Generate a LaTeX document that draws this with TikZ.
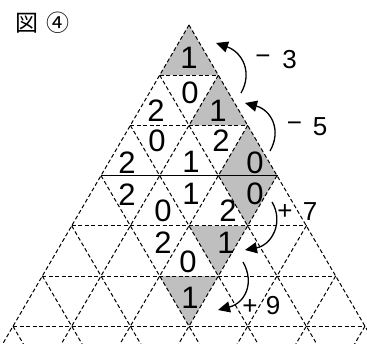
\documentclass[tikz,border=0pt]{standalone}
\usepackage{fontspec}
\setmainfont{Noto Sans CJK JP}
\newfontfamily\digitsans{Liberation Sans}
\usetikzlibrary{arrows.meta}
\begin{document}
\begin{tikzpicture}[x=1pt,y=-1pt,
  grid/.style={dash pattern=on 4pt off 2.5pt, line width=1pt},
  boldline/.style={line width=1.6pt},
  cell/.style={fill=black!25},
  num/.style={font=\digitsans\fontsize{31}{31}\selectfont, inner sep=0pt},
  lab/.style={font=\digitsans\fontsize{26}{26}\selectfont, inner sep=0pt},
  ttl/.style={font=\fontsize{23}{23}\selectfont, inner sep=0pt},
  arr/.style={line width=1.3pt, -{Triangle[length=12pt,width=11pt]}}]
\useasboundingbox (0,0) rectangle (367,343);
\fill[white] (0,0) rectangle (367,343);
% shaded cells
\fill[cell] (189,25) -- (159.67,75.2) -- (218.33,75.2) -- cycle;
\fill[cell] (218.33,75.2) -- (189,125.4) -- (247.67,125.4) -- cycle;
\fill[cell] (247.67,125.4) -- (218.33,175.6) -- (277,175.6) -- cycle;
\fill[cell] (218.33,175.6) -- (277,175.6) -- (247.67,225.8) -- cycle;
\fill[cell] (189,225.8) -- (247.67,225.8) -- (218.33,276) -- cycle;
\fill[cell] (159.67,276) -- (218.33,276) -- (189,326.2) -- cycle;
% grid
\begin{scope}
\clip (0,0) rectangle (367,343);
\foreach \k in {0,...,6}{
  \pgfmathsetmacro\yy{25+50.2*\k}
  \pgfmathsetmacro\xl{189-29.33*\k}
  \pgfmathsetmacro\xr{189+29.33*\k}
  \pgfmathsetmacro\dx{29.33*(360-\yy)/50.2}
  \draw[grid] (\xr,\yy) -- (\xr-\dx,360);
  \draw[grid] (\xl,\yy) -- (\xl+\dx,360);
  \ifnum\k>0 \draw[grid] (\xl,\yy) -- (\xr,\yy); \fi
}
\end{scope}
\draw[boldline] (101,175.6) -- (277,175.6);
% numbers
\node[num] (n1) at (189,58) {1};
\node[num] (n2) at (190,93) {0};
\node[num] (n3) at (156,111) {2};
\node[num] (n4) at (218,111) {1};
\node[num] (n5) at (157,141) {0};
\node[num] (n6) at (221,141) {2};
\node[num] (n7) at (127,163) {2};
\node[num] (n8) at (191,162) {1};
\node[num] (n9) at (255,163) {0};
\node[num] (n10) at (127,195) {2};
\node[num] (n11) at (163,211) {0};
\node[num] (n12) at (191,194) {1};
\node[num] (n13) at (228,211) {2};
\node[num] (n14) at (255,194) {0};
\node[num] (n15) at (163,243) {2};
\node[num] (n16) at (188,262) {0};
\node[num] (n17) at (226,243) {1};
\node[num] (n18) at (190,298) {1};
% arrows
\coordinate (a1s) at (241,93);  \coordinate (a1e) at (216,43);
\coordinate (a2s) at (270,151); \coordinate (a2e) at (245,103);
\coordinate (a3s) at (272,202); \coordinate (a3e) at (245,250);
\coordinate (a4s) at (243,262); \coordinate (a4e) at (218,310);
\draw[arr] (a1s) .. controls (253,72) and (242,52) .. (a1e);
\draw[arr] (a2s) .. controls (282,130) and (271,110) .. (a2e);
\draw[arr] (a3s) .. controls (284,222) and (272,245) .. (a3e);
\draw[arr] (a4s) .. controls (255,283) and (245,303) .. (a4e);
% labels
\node[lab] (m3) at (263,60) {−};
\node[lab] (d3) at (289.5,60) {3};
\node[lab] (m5) at (294.5,127) {−};
\node[lab] (d5) at (320,127) {5};
\node[lab] (p7) at (285,212) {+};
\node[lab] (d7) at (310,212) {7};
\node[lab] (p9) at (250,307) {+};
\node[lab] (d9) at (273,306) {9};
% title
\node[ttl] (t1) at (27,23) {図};
\node[ttl] (t2) at (58,23) {④};
\end{tikzpicture}
\end{document}
